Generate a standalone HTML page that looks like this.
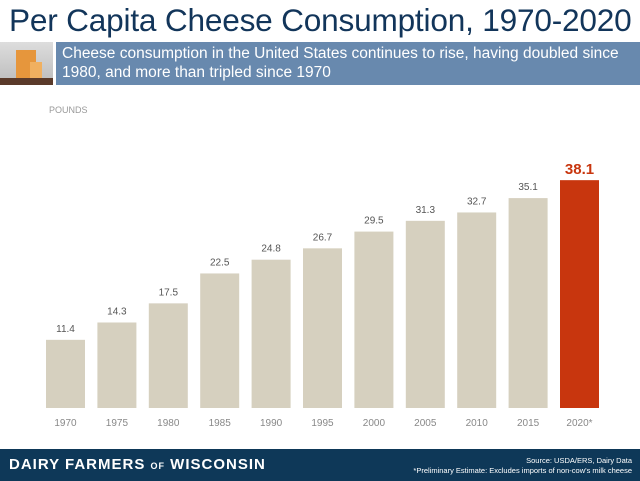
<!DOCTYPE html>
<html><head><meta charset="utf-8"><style>
body{margin:0;width:640px;height:481px;background:#fff;font-family:"Liberation Sans",sans-serif;position:relative;overflow:hidden}
.t{position:absolute;left:9px;top:2px;font-size:31.6px;color:#12355a;letter-spacing:-0.2px;white-space:nowrap}
.ban{position:absolute;left:56px;top:42px;width:584px;height:43px;background:#6889ae;color:#fff;font-size:15.5px;line-height:19px;padding:2px 0 0 6px;box-sizing:border-box;font-family:"Liberation Sans Narrow","Liberation Sans",sans-serif}
.img{position:absolute;left:0;top:42px;width:53px;height:43px;background:linear-gradient(#ddd,#bbb)}
.foot{position:absolute;left:0;top:449px;width:640px;height:32px;background:#0e3858}
</style></head><body>
<div class="t">Per Capita Cheese Consumption, 1970-2020</div>
<div class="img"><div style="position:absolute;left:16px;top:8px;width:20px;height:28px;background:#e6963c"></div><div style="position:absolute;left:30px;top:20px;width:12px;height:16px;background:#f0b060"></div><div style="position:absolute;left:0;top:36px;width:53px;height:7px;background:#5a3a2a"></div></div>
<div class="ban">Cheese consumption in the United States continues to rise, having doubled since 1980, and more than tripled since 1970</div>
<svg id="c" width="640" height="449" style="position:absolute;left:0;top:0">
<text x="49" y="113" font-size="9" fill="#999" font-family="Liberation Sans">POUNDS</text>
</svg>
<div class="foot">
<div style="position:absolute;left:9px;top:7px;color:#fff;font-weight:bold;font-size:15px;letter-spacing:1px">DAIRY FARMERS <span style="font-size:9px">OF</span> WISCONSIN</div>
<div style="position:absolute;right:8px;top:7px;color:#fff;font-size:7.5px;text-align:right;line-height:10px">Source: USDA/ERS, Dairy Data<br>*Preliminary Estimate: Excludes imports of non-cow's milk cheese</div>
</div>
<script>
const categories=["1970","1975","1980","1985","1990","1995","2000","2005","2010","2015","2020*"];
const values=[11.4,14.3,17.5,22.5,24.8,26.7,29.5,31.3,32.7,35.1,38.1];
const svg=document.getElementById('c');const NS="http://www.w3.org/2000/svg";
const base=408,scale=5.98,x0=46,step=51.4,bw=39;
const xA=i=>x0+i*step, yA=v=>base-v*scale;
values.forEach((v,i)=>{
 const last=i===values.length-1;
 const r=document.createElementNS(NS,'rect');
 r.setAttribute('x',xA(i));r.setAttribute('y',yA(v));r.setAttribute('width',bw);r.setAttribute('height',base-yA(v));
 r.setAttribute('fill',last?'#c8360e':'#d6d0bf');
 
 
 svg.appendChild(r);
 const t=document.createElementNS(NS,'text');
 t.setAttribute('x',xA(i)+bw/2);t.setAttribute('y',yA(v)-(last?6:8));t.setAttribute('text-anchor','middle');
 t.setAttribute('font-size',last?15:10);t.setAttribute('fill',last?'#c8360e':'#555');
 if(last)t.setAttribute('font-weight','bold');
 t.textContent=v.toFixed(1);
 
 
 svg.appendChild(t);
 const l=document.createElementNS(NS,'text');
 l.setAttribute('x',xA(i)+bw/2);l.setAttribute('y',426);l.setAttribute('text-anchor','middle');
 l.setAttribute('font-size',10);l.setAttribute('fill','#888');l.textContent=categories[i];
 
 
 svg.appendChild(l);
});
</script>
</body></html>
